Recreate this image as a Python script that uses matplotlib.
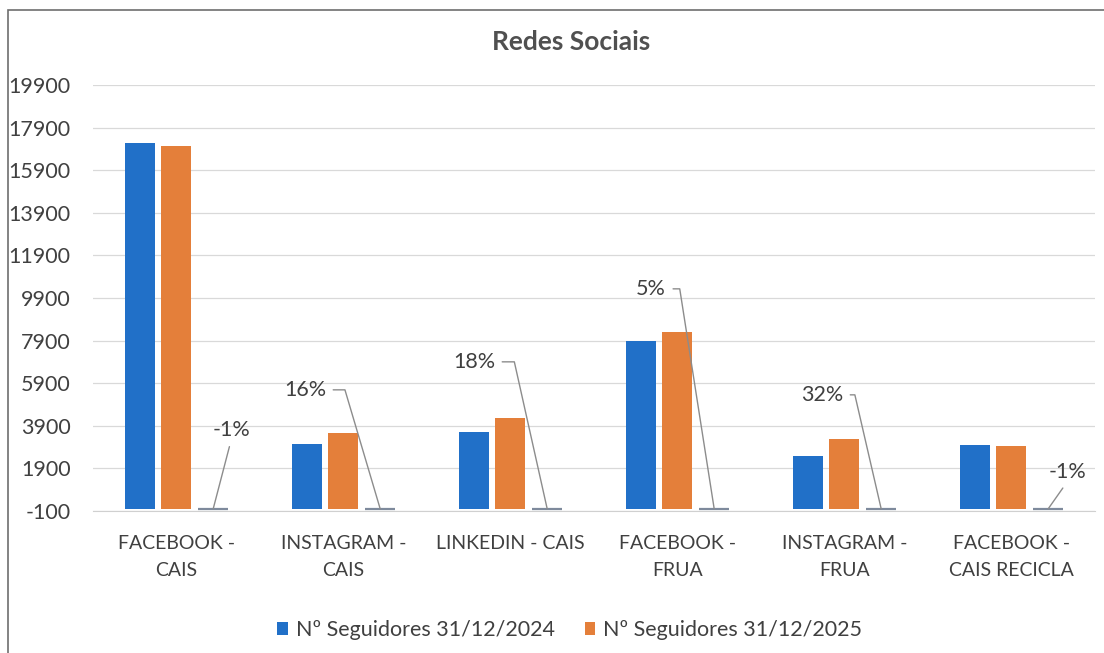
import numpy as np
import matplotlib
matplotlib.use("Agg")
import matplotlib.pyplot as plt
from matplotlib.patches import Rectangle

plt.rcParams['font.family'] = ['Lato', 'DejaVu Sans']

categories = ["FACEBOOK -\nCAIS", "INSTAGRAM -\nCAIS", "LINKEDIN - CAIS",
              "FACEBOOK -\nFRUA", "INSTAGRAM -\nFRUA", "FACEBOOK -\nCAIS RECICLA"]
seg_2024 = [17180, 3050, 3610, 7880, 2480, 2990]
seg_2025 = [17040, 3560, 4270, 8300, 3280, 2950]
variacao = [-0.01, 0.16, 0.18, 0.05, 0.32, -0.01]
var_labels = ["-1%", "16%", "18%", "5%", "32%", "-1%"]
yticks = list(range(-100, 19901, 2000))

fig = plt.figure(figsize=(11.04, 6.53), dpi=100)
ax = fig.add_axes([0.0842, 0.2175, 0.9076, 0.6524])

x = np.arange(len(categories))
w = 0.18
step = 0.22
blue = '#2170C8'
orange = '#E47F3A'
grey = '#7E8A9C'

ax.bar(x - step, seg_2024, w, color=blue, label='Nº Seguidores 31/12/2024', zorder=3)
ax.bar(x, seg_2025, w, color=orange, label='Nº Seguidores 31/12/2025', zorder=3)
ax.bar(x + step, variacao, w, color=grey, edgecolor=grey, linewidth=1.6, zorder=3)

ax.set_xlim(-0.5, len(categories) - 0.5)
ax.set_ylim(-100, 19900)
ax.set_yticks(yticks)
ax.set_yticklabels([str(t) for t in yticks], fontsize=15.5, color='#404040')
ax.set_xticks(x)
ax.set_xticklabels(categories, fontsize=14, color='#404040', linespacing=1.73)
ax.tick_params(axis='both', length=0)
ax.tick_params(axis='y', pad=16)
ax.tick_params(axis='x', pad=17)
ax.grid(axis='y', color='#D9D9D9', linewidth=0.9, zorder=0)
for s in ['top', 'right', 'left']:
    ax.spines[s].set_visible(False)
ax.spines['bottom'].set_color('#D0D0D0')

# label offsets in pixels (dx, dy) and connector styles
offsets = [(18, 79), (-75, 119), (-73, 147), (-63, 220), (-59, 114), (19, 37)]
styles = [None, 106.5, 102.6, 98.9, 103.0, None]
for i, (lab, val) in enumerate(zip(var_labels, variacao)):
    dx, dy = offsets[i]
    ang = styles[i]
    if ang is None:
        ap = dict(arrowstyle='-', color='#8C8C8C', lw=1.0, relpos=(0.5, 0.0),
                  shrinkA=3, shrinkB=0)
    else:
        ap = dict(arrowstyle='-', color='#8C8C8C', lw=1.0, relpos=(1.0, 0.5),
                  connectionstyle=f"angle,angleA=0,angleB={ang},rad=0",
                  shrinkA=3, shrinkB=0)
    ax.annotate(lab, xy=(x[i] + step, 0), xytext=(dx * 0.72, dy * 0.72),
                textcoords='offset points', ha='center', va='center',
                fontsize=15.5, color='#404040', arrowprops=ap, zorder=5)

fig.text(0.517, 0.9357, 'Redes Sociais', ha='center', va='center',
         fontsize=19, fontweight='bold', color='#505050')

leg = fig.legend(loc='center', bbox_to_anchor=(0.516, 0.035), ncol=2, frameon=False,
                 fontsize=15.5, handlelength=0.5, handleheight=0.5, handletextpad=0.35,
                 columnspacing=1.4)
for t in leg.get_texts():
    t.set_color('#404040')

fig.patches.append(Rectangle((8 / 1104, -0.1), 1.2, 1 - 10 / 653 + 0.1,
                             transform=fig.transFigure, fill=False,
                             edgecolor='#6E6E6E', linewidth=1.2))

fig.savefig('out.png', dpi=100)
